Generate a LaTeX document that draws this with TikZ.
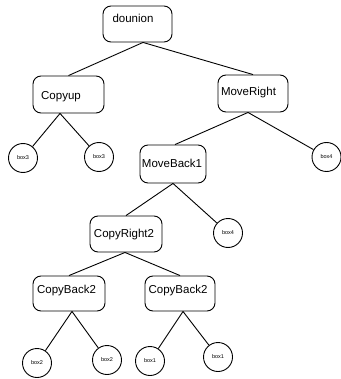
\documentclass[tikz,border=0pt]{standalone}
\usepackage{fontspec}
\setmainfont{Liberation Sans}
\begin{document}
\begin{tikzpicture}[x=1pt,y=-1pt,
  box/.style={draw,rounded corners=8pt,line width=0.9pt,inner sep=0pt},
  leaf/.style={draw,circle,line width=0.9pt,minimum size=29pt,inner sep=0pt,font=\fontsize{5.5}{6}\selectfont},
  lbl/.style={font=\fontsize{11.5}{13}\selectfont},
  edge/.style={line width=0.9pt}]
\useasboundingbox (0,0) rectangle (340,379);
% boxes
\node[box,minimum width=69pt,minimum height=36pt,label={[lbl,xshift=-4.5pt,yshift=6pt]center:dounion}] (dounion) at (137.5,24) {};
\node[box,minimum width=71pt,minimum height=37pt,label={[lbl,xshift=-7.5pt,yshift=-2.5pt]center:Copyup}] (copyup) at (68.5,94.5) {};
\node[box,minimum width=70pt,minimum height=37pt,label={[lbl,xshift=-4.5pt,yshift=0.5pt]center:MoveRight}] (moveright) at (253,93.5) {};
\node[box,minimum width=66pt,minimum height=38pt,label={[lbl,xshift=-1pt,yshift=1pt]center:MoveBack1}] (moveback) at (173,164) {};
\node[box,minimum width=72pt,minimum height=36pt,label={[lbl,xshift=-2pt,yshift=-1pt]center:CopyRight2}] (copyright) at (126,234) {};
\node[box,minimum width=72pt,minimum height=35pt,label={[lbl,xshift=-2.5pt,yshift=2.5pt]center:CopyBack2}] (cbl) at (69,293.5) {};
\node[box,minimum width=70pt,minimum height=35pt,label={[lbl,xshift=-2pt,yshift=2.5pt]center:CopyBack2}] (cbr) at (180,293.5) {};
% leaves
\node[leaf] (b3l) at (23,158) {box3};
\node[leaf] (b3r) at (99,157) {box3};
\node[leaf] (b4a) at (326.5,157) {box4};
\node[leaf] (b4b) at (228,233) {box4};
\node[leaf] (b2l) at (37,363) {box2};
\node[leaf] (b2r) at (107,360) {box2};
\node[leaf] (b1l) at (150,361) {box1};
\node[leaf] (b1r) at (218,357) {box1};
% apex coordinates
\coordinate (a0) at ([xshift=5.5pt]dounion.south);
\coordinate (a1) at ([xshift=-8.5pt]copyup.south);
\coordinate (a2) at ([xshift=-5pt]moveright.south);
\coordinate (a3) at ([xshift=0pt]moveback.south);
\coordinate (a4) at ([xshift=-1pt]copyright.south);
\coordinate (a5) at ([xshift=3pt]cbl.south);
\coordinate (a6) at ([xshift=3pt]cbr.south);
% edges
\draw[edge] (a0) -- (copyup.north);
\draw[edge] (a0) -- (moveright.north);
\draw[edge] (a1) -- (b3l);
\draw[edge] (a1) -- (b3r);
\draw[edge] (a2) -- ([xshift=2pt]moveback.north);
\draw[edge] (a2) -- (b4a);
\draw[edge] (a3) -- (copyright.north);
\draw[edge] (a3) -- (b4b);
\draw[edge] (a4) -- (cbl.north);
\draw[edge] (a4) -- (cbr.north);
\draw[edge] (a5) -- (b2l);
\draw[edge] (a5) -- (b2r);
\draw[edge] (a6) -- (b1l);
\draw[edge] (a6) -- (b1r);
\end{tikzpicture}
\end{document}
